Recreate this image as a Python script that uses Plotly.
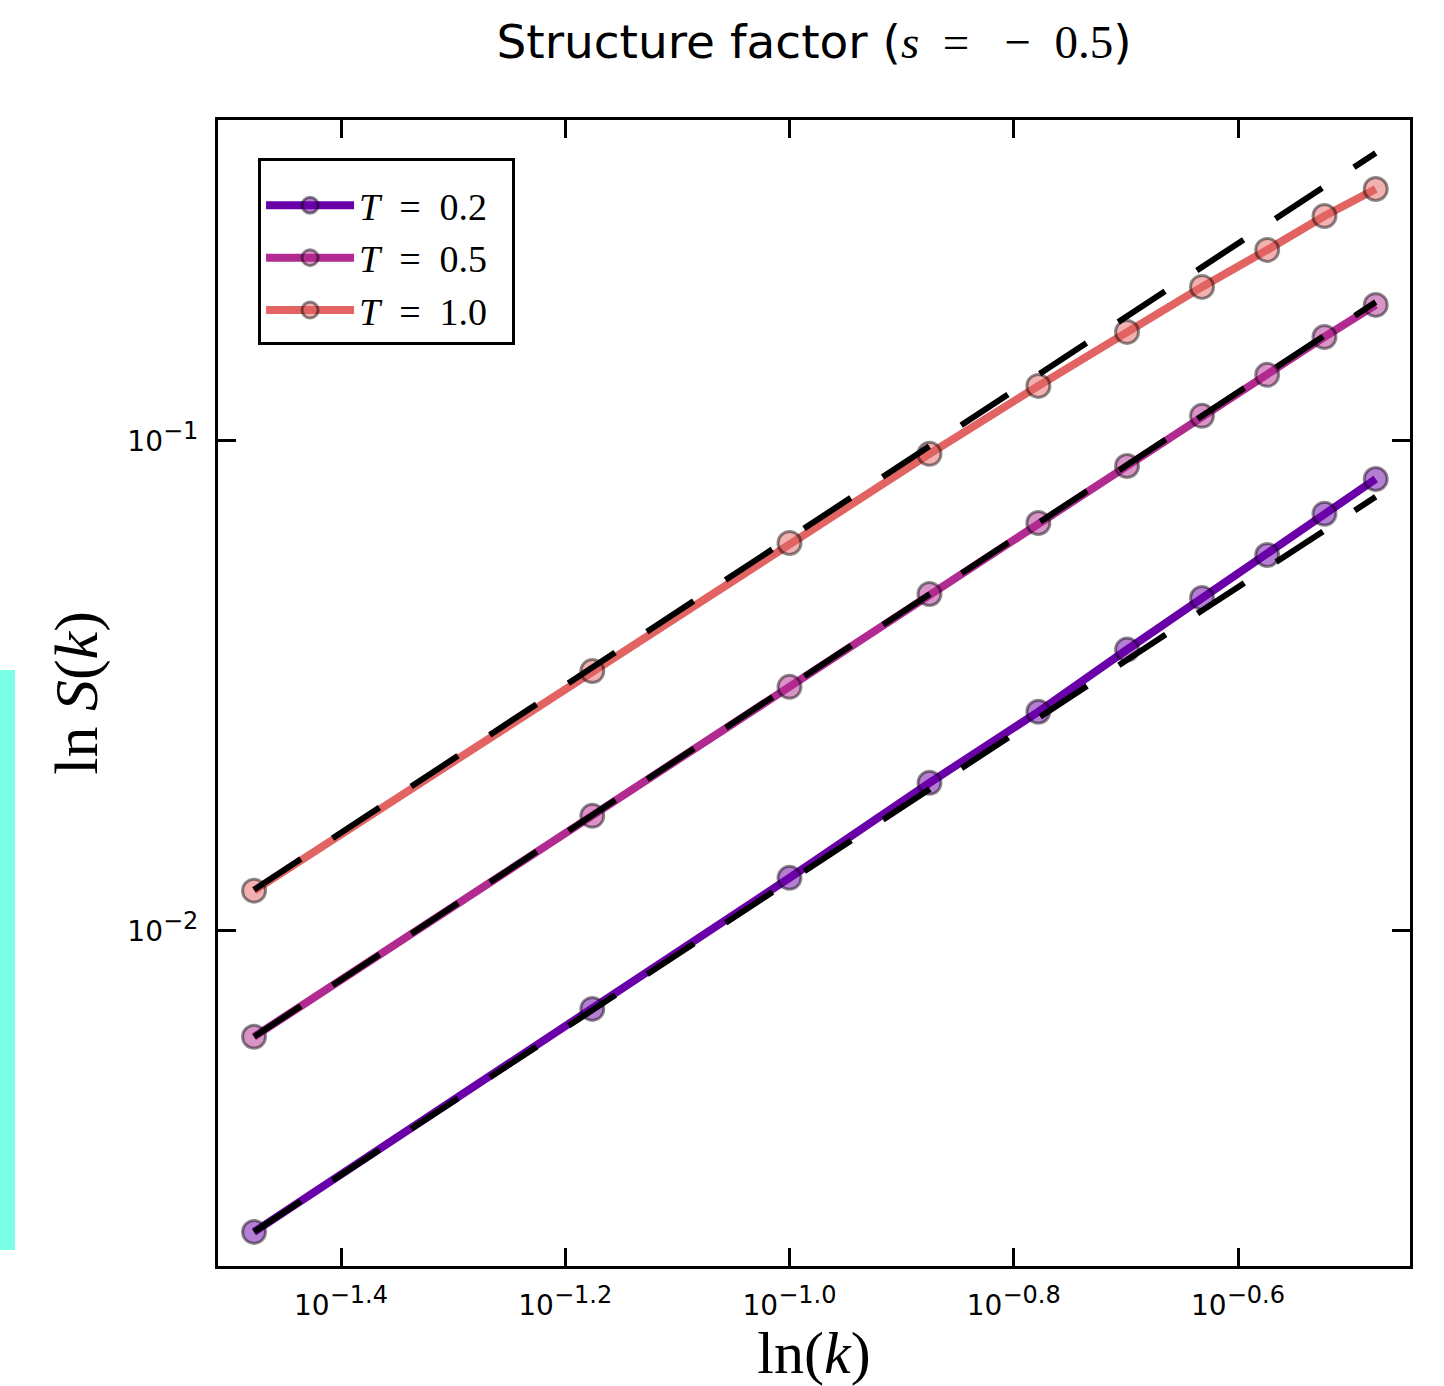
import plotly.graph_objects as go

# ---- data ----
k_vals = [0.0333, 0.0667, 0.1, 0.1333, 0.1667, 0.2, 0.2333, 0.2667, 0.3, 0.3333]
S_T02 = [0.00243, 0.00693, 0.01283, 0.02005, 0.0280, 0.0375, 0.0478, 0.0585, 0.0710, 0.0836]
S_T05 = [0.00608, 0.01717, 0.03148, 0.0487, 0.0680, 0.0889, 0.1125, 0.1364, 0.1630, 0.1895]
S_T10 = [0.01208, 0.0339, 0.0619, 0.0941, 0.1295, 0.1669, 0.2062, 0.2454, 0.2878, 0.3268]

# dashed reference lines (endpoints)
fit_k = [0.0333, 0.3333]
fit_T02 = [0.00243, 0.0769]
fit_T05 = [0.00608, 0.1921]
fit_T10 = [0.01213, 0.3871]

series_labels = ["<i>T</i>  =  0.2\u00a0\u00a0", "<i>T</i>  =  0.5\u00a0\u00a0", "<i>T</i>  =  1.0\u00a0\u00a0"]
colors = ["#6a00a8", "#b12a90", "#e16462"]
fills = ["rgba(106,0,168,0.5)", "rgba(177,42,144,0.5)", "rgba(225,100,98,0.5)"]

x_tickvals = [10 ** -1.4, 10 ** -1.2, 10 ** -1.0, 10 ** -0.8, 10 ** -0.6]
x_exps = ["\u22121.4", "\u22121.2", "\u22121.0", "\u22120.8", "\u22120.6"]
y_tickvals = [1e-2, 1e-1]
y_exps = ["\u22122", "\u22121"]

SERIF = "Liberation Serif"
SANS = "DejaVu Sans"


def sup_label(e):
    return "10<sup><span style=\"font-size:24px\">" + e + "</span></sup>"


fig = go.Figure()
for ys, lab, c, f in zip([S_T02, S_T05, S_T10], series_labels, colors, fills):
    fig.add_trace(go.Scatter(
        x=k_vals, y=ys, mode="lines+markers", name=lab,
        line=dict(color=c, width=8),
        marker=dict(size=23, color=f, line=dict(color="rgba(0,0,0,0.45)", width=3)),
    ))
for ys in [fit_T02, fit_T05, fit_T10]:
    fig.add_trace(go.Scatter(
        x=fit_k, y=ys, mode="lines", showlegend=False,
        line=dict(color="black", width=6, dash="56px,38px"),
        hoverinfo="skip",
    ))

axis_common = dict(
    showline=True, linecolor="black", linewidth=3, mirror="ticks",
    ticks="inside", ticklen=18, tickwidth=3, tickcolor="black",
    showgrid=False, zeroline=False,
    tickfont=dict(family=SANS, size=28, color="black"),
)

fig.update_layout(
    width=1444, height=1386,
    paper_bgcolor="white", plot_bgcolor="white",
    margin=dict(l=218, r=34, t=120, b=120, autoexpand=False),
    title=dict(
        text="Structure factor (<span style=\"font-family:Liberation Serif\"><i>s</i>  =   \u2212  0.5</span>)",
        x=0.5, xref="paper", xanchor="center", y=0.9697, yanchor="middle",
        font=dict(family=SANS, size=47, color="black"),
    ),
    xaxis=dict(
        type="log", range=[-1.5097, -0.4466],
        tickvals=x_tickvals, ticktext=[sup_label(e) for e in x_exps],
        ticklabelstandoff=12,
        title=dict(text="ln(<i>k</i>)", font=dict(family=SERIF, size=60, color="black"), standoff=0),
        **axis_common,
    ),
    yaxis=dict(
        type="log", range=[-2.684, -0.345],
        tickvals=y_tickvals, ticktext=[sup_label(e) for e in y_exps],
        ticklabelstandoff=11,
        title=dict(text="ln <i>S</i>(<i>k</i>)", font=dict(family=SERIF, size=62, color="black"), standoff=10),
        **axis_common,
    ),
    legend=dict(
        x=0.0336, y=0.9668, xanchor="left", yanchor="top",
        bgcolor="white", bordercolor="black", borderwidth=3,
        font=dict(family=SERIF, size=38, color="black"),
        itemwidth=88,
        title=dict(text=" ", font=dict(size=10)),
    ),
    shapes=[dict(
        type="rect", xref="paper", yref="paper",
        x0=-0.1829, x1=-0.1703, y0=0.014, y1=0.520,
        fillcolor="#7affe6", line=dict(width=0), layer="above",
    )],
)

fig.write_html("out.html", config={"displayModeBar": False},
               post_script="document.body.style.margin='0px';")
